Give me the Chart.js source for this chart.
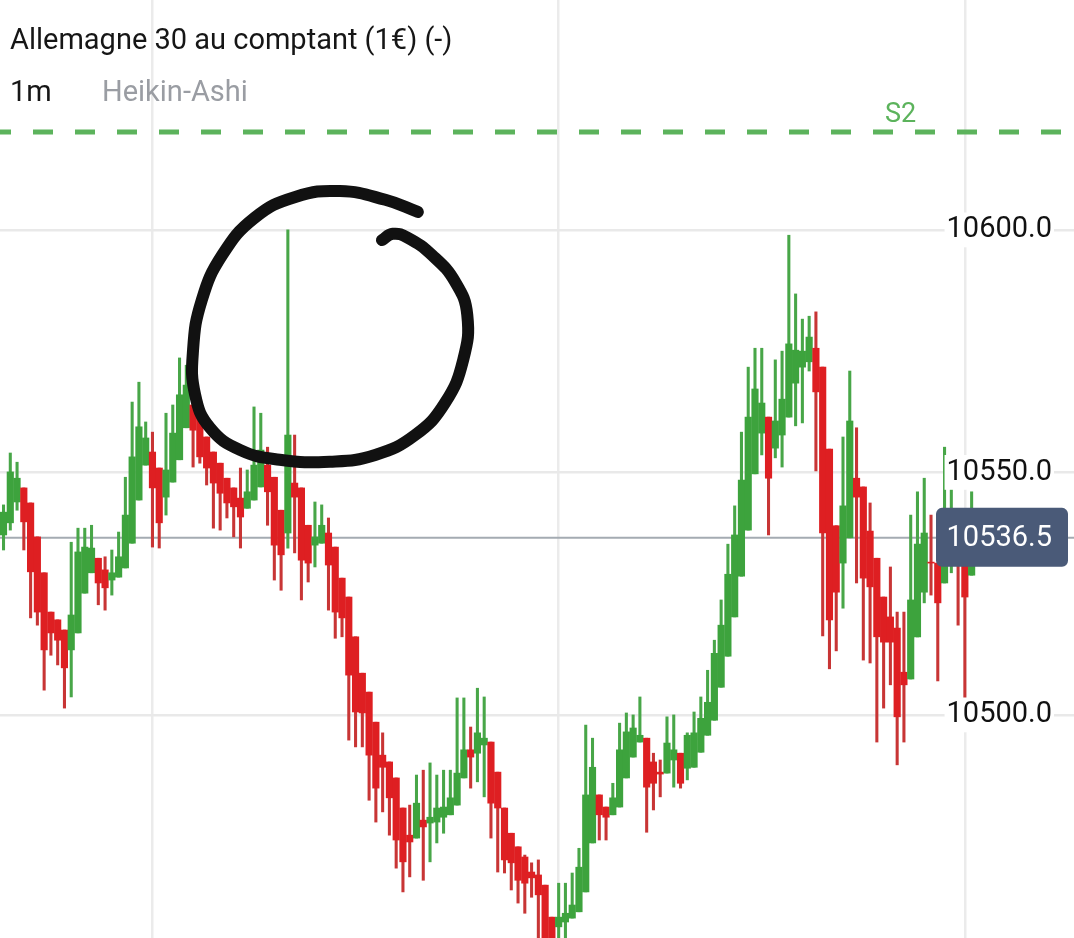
<!DOCTYPE html>
<html lang="fr">
<head>
<meta charset="UTF-8" />
<title>Allemagne 30 au comptant - Heikin-Ashi 1m</title>
<script src="https://cdn.jsdelivr.net/npm/chart.js"></script>
<style>
  html, body { margin: 0; padding: 0; background: #fff; }
  body { width: 1074px; height: 938px; overflow: hidden; position: relative; font-family: Roboto, sans-serif; }
  canvas { position: absolute; left: 0; top: 0; }
  .label { position: absolute; font-size: 29px; line-height: 29px; white-space: nowrap; }
  #title { left: 10px; top: 25px; color: #161616; }
  #tf { left: 10px; top: 77px; color: #161616; }
  #kind { left: 102px; top: 77px; color: #9a9da3; }
</style>
</head>
<body>
<canvas id="chart" width="1074" height="938"></canvas>
<div class="label" id="title">Allemagne 30 au comptant (1€) (-)</div>
<div class="label" id="tf">1m</div>
<div class="label" id="kind">Heikin-Ashi</div>
<script>
  // Heikin-Ashi candles, one per minute
  const open = [
    10537.1, 10539.6, 10543.9, 10546.8, 10543.7, 10536.7, 10529.3, 10521.2, 10519.6, 10517.5,
    10513.4, 10516.9, 10525.1, 10529.3, 10532.3, 10529.9, 10527.8, 10528.4, 10530.3, 10535.4,
    10544.3, 10551.5, 10554.2, 10550.9, 10544.9, 10548.0, 10552.6, 10559.2, 10563.9, 10561.4,
    10557.3, 10554.2, 10551.9, 10548.8, 10546.8, 10544.7, 10542.6, 10544.3, 10547.0, 10551.5,
    10549.0, 10542.2, 10537.5, 10547.8, 10546.8, 10539.1, 10535.0, 10535.4, 10537.5, 10534.6,
    10528.2, 10524.3, 10516.1, 10508.6, 10504.7, 10498.5, 10491.7, 10490.3, 10487.0, 10480.8,
    10475.2, 10474.6, 10478.3, 10477.7, 10477.9, 10478.9, 10479.4, 10481.4, 10487.0, 10492.8,
    10492.1, 10493.8, 10494.4, 10488.2, 10480.8, 10475.6, 10472.8, 10470.7, 10467.6, 10467.0,
    10464.9, 10458.3, 10456.3, 10457.3, 10458.1, 10459.4, 10463.5, 10473.6, 10483.5, 10481.0,
    10479.4, 10481.0, 10487.0, 10491.3, 10494.4, 10495.2, 10490.3, 10488.2, 10488.0, 10490.7,
    10492.1, 10489.0, 10489.2, 10492.3, 10495.8, 10498.9, 10505.7, 10512.1, 10520.2, 10528.6,
    10538.1, 10549.7, 10558.1, 10561.4, 10555.0, 10557.7, 10561.4, 10568.4, 10571.7, 10572.8,
    10575.6, 10571.7, 10554.8, 10539.0, 10531.3, 10536.5, 10548.8, 10547.0, 10537.9, 10532.3,
    10524.3, 10520.2, 10517.9, 10508.8, 10507.4, 10516.1, 10525.3, 10531.5, 10531.3, 10527.2,
    10533.2, 10535.0, 10533.4, 10528.8
  ];
  const high = [
    10543.3, 10554.0, 10552.1, 10546.8, 10543.7, 10536.7, 10529.3, 10521.2, 10519.6, 10517.5,
    10535.6, 10538.5, 10538.5, 10539.1, 10532.3, 10532.6, 10534.0, 10537.7, 10549.0, 10564.5,
    10568.6, 10560.4, 10558.3, 10550.9, 10562.2, 10563.9, 10573.6, 10572.1, 10563.9, 10561.4,
    10557.3, 10554.2, 10551.9, 10548.8, 10546.8, 10550.9, 10550.5, 10563.5, 10562.2, 10555.2,
    10549.0, 10542.2, 10600.0, 10557.7, 10546.8, 10539.1, 10543.9, 10543.3, 10540.6, 10534.6,
    10528.2, 10524.3, 10516.1, 10508.6, 10504.7, 10498.5, 10496.3, 10490.3, 10487.0, 10480.8,
    10481.4, 10487.6, 10488.6, 10490.1, 10487.6, 10488.6, 10488.6, 10503.5, 10503.5, 10497.5,
    10505.5, 10503.7, 10494.4, 10488.2, 10480.8, 10475.6, 10472.8, 10471.1, 10469.5, 10470.1,
    10464.9, 10458.3, 10465.3, 10465.3, 10467.4, 10472.5, 10497.9, 10495.2, 10483.5, 10481.0,
    10485.9, 10498.3, 10500.4, 10500.0, 10503.7, 10495.2, 10492.1, 10490.7, 10499.6, 10500.0,
    10492.1, 10496.3, 10500.6, 10503.7, 10509.2, 10515.4, 10523.7, 10535.2, 10543.1, 10558.3,
    10571.7, 10575.6, 10575.6, 10561.4, 10573.2, 10575.0, 10598.9, 10586.8, 10581.6, 10582.2,
    10583.1, 10571.7, 10554.8, 10539.0, 10557.3, 10570.9, 10559.2, 10547.0, 10543.7, 10532.3,
    10524.3, 10530.5, 10521.2, 10521.2, 10541.2, 10546.0, 10548.8, 10541.2, 10531.3, 10555.2,
    10549.5, 10535.0, 10533.4, 10546.0
  ];
  const low = [
    10534.0, 10538.1, 10542.2, 10534.0, 10520.0, 10518.5, 10505.1, 10512.3, 10510.3, 10501.4,
    10503.7, 10516.9, 10525.1, 10529.3, 10522.7, 10521.6, 10524.7, 10528.4, 10530.3, 10535.4,
    10544.3, 10551.5, 10534.6, 10534.4, 10541.2, 10548.0, 10552.6, 10559.2, 10551.1, 10551.9,
    10547.4, 10538.5, 10538.1, 10540.6, 10536.7, 10534.4, 10542.6, 10544.3, 10547.0, 10539.1,
    10527.8, 10525.7, 10534.4, 10533.4, 10523.7, 10527.4, 10530.5, 10535.4, 10521.6, 10515.8,
    10516.1, 10494.8, 10493.4, 10493.4, 10482.4, 10477.9, 10480.0, 10475.2, 10468.4, 10463.5,
    10466.6, 10474.6, 10465.9, 10469.7, 10473.6, 10475.6, 10479.4, 10481.4, 10487.0, 10484.9,
    10486.2, 10483.1, 10474.6, 10467.6, 10467.4, 10463.9, 10461.2, 10459.1, 10462.4, 10452.5,
    10451.0, 10451.0, 10453.6, 10453.6, 10458.1, 10459.4, 10463.5, 10473.6, 10474.2, 10474.2,
    10479.4, 10481.0, 10487.0, 10491.3, 10494.4, 10475.8, 10480.4, 10483.1, 10488.0, 10485.1,
    10484.9, 10486.6, 10489.2, 10492.3, 10495.8, 10498.9, 10505.7, 10512.1, 10520.2, 10528.6,
    10538.1, 10549.7, 10553.6, 10537.1, 10553.0, 10551.1, 10561.4, 10559.6, 10560.2, 10570.9,
    10550.3, 10516.3, 10509.5, 10513.2, 10522.0, 10536.5, 10527.2, 10511.3, 10510.7, 10494.4,
    10501.4, 10506.2, 10489.7, 10494.4, 10507.4, 10516.1, 10523.1, 10524.7, 10507.0, 10527.2,
    10529.3, 10518.5, 10503.1, 10528.8
  ];
  const close = [
    10541.8, 10550.1, 10548.8, 10539.8, 10529.5, 10521.2, 10513.4, 10516.9, 10515.4, 10509.7,
    10520.6, 10533.6, 10534.6, 10534.4, 10527.2, 10526.2, 10529.3, 10532.6, 10541.2, 10553.2,
    10559.4, 10557.1, 10546.8, 10539.6, 10550.5, 10558.1, 10566.0, 10568.0, 10558.7, 10553.2,
    10550.9, 10547.8, 10545.7, 10543.7, 10542.9, 10540.8, 10546.0, 10551.5, 10554.6, 10546.0,
    10535.0, 10533.0, 10557.7, 10544.9, 10531.9, 10531.3, 10536.7, 10539.1, 10530.9, 10521.2,
    10520.0, 10508.2, 10500.6, 10500.4, 10491.7, 10484.9, 10489.2, 10482.9, 10474.2, 10469.7,
    10473.8, 10481.8, 10476.9, 10478.9, 10480.8, 10481.0, 10482.9, 10488.0, 10492.8, 10491.3,
    10496.3, 10495.2, 10481.8, 10480.8, 10470.1, 10469.5, 10465.9, 10465.3, 10466.4, 10462.9,
    10451.5, 10452.5, 10458.3, 10459.1, 10460.8, 10468.6, 10483.5, 10489.2, 10479.4, 10478.9,
    10482.9, 10492.8, 10496.5, 10497.3, 10495.8, 10485.1, 10485.9, 10487.8, 10494.2, 10492.8,
    10485.9, 10495.8, 10496.3, 10499.3, 10502.6, 10512.7, 10518.5, 10529.0, 10537.1, 10548.4,
    10561.4, 10567.2, 10564.3, 10548.8, 10560.6, 10565.1, 10576.5, 10575.2, 10575.0, 10577.9,
    10566.6, 10537.5, 10519.6, 10525.3, 10543.1, 10560.6, 10544.9, 10528.2, 10526.4, 10516.1,
    10515.0, 10515.0, 10499.6, 10506.2, 10523.7, 10535.2, 10537.5, 10531.3, 10523.1, 10539.1,
    10537.1, 10531.9, 10524.3, 10531.9
  ];

  const hourMarks = [22, 82, 142];          // candles that open a new hour
  const priceTicks = [10500, 10550, 10600];
  const lastPrice = 10536.5;
  const s2Level = 10620.2;

  // hand-drawn ring around the spike, in (candle, price) units
  const ringX = [61.2, 56.4, 49.7, 43.1, 37.1, 32.3, 29.3, 28.0, 28.3, 30.5, 35.0, 40.8,
                 48.2, 54.9, 60.8, 65.2, 67.9, 68.5, 66.7, 63.3, 59.7, 57.5, 55.9];
  const ringY = [10603.7, 10606.2, 10608.0, 10606.8, 10602.5, 10594.8, 10585.6, 10575.3,
                 10566.0, 10559.2, 10554.6, 10552.6, 10552.2, 10553.6, 10557.7, 10564.3,
                 10573.2, 10582.5, 10589.3, 10594.8, 10598.4, 10599.2, 10597.9];

  const UP = '#3da33d', DOWN = '#de1f22';
  const UP_WICK = '#48a648', DOWN_WICK = '#c83535';

  const xMin = -0.52;
  const xMax = xMin + 1074 / 6.77;
  const yMin = 10454.0;
  const yMax = 10647.4;

  const idx = open.map((_, i) => i);
  const up = i => close[i] >= open[i];

  Chart.defaults.font.family = 'Roboto, sans-serif';

  const overlay = {
    id: 'overlay',
    afterDraw(chart) {
      const { ctx, scales: { y } } = chart;
      const py = y.getPixelForValue(lastPrice);
      ctx.save();
      ctx.fillStyle = '#4a5a78';
      ctx.beginPath();
      ctx.roundRect(936, py - 30, 132, 59, 6);
      ctx.fill();
      ctx.fillStyle = '#fff';
      ctx.font = '29px Roboto';
      ctx.textAlign = 'right';
      ctx.textBaseline = 'middle';
      ctx.fillText(lastPrice.toFixed(1), 1052, py + 1);

      const sy = y.getPixelForValue(s2Level);
      ctx.fillStyle = '#5cb35c';
      ctx.font = '27px Roboto';
      ctx.textAlign = 'left';
      ctx.textBaseline = 'alphabetic';
      ctx.fillText('S2', 885, sy - 10);
      ctx.restore();
    }
  };

  new Chart(document.getElementById('chart'), {
    type: 'bar',
    data: {
      datasets: [
        {
          type: 'line',
          data: [{ x: xMin, y: lastPrice }, { x: xMax, y: lastPrice }],
          borderColor: '#a4abb2',
          borderWidth: 2,
          pointRadius: 0,
          order: 6
        },
        {
          type: 'line',
          data: [{ x: xMin, y: s2Level }, { x: xMax, y: s2Level }],
          borderColor: '#5cb35c',
          borderWidth: 5,
          borderDash: [20, 22],
          borderDashOffset: 9,
          pointRadius: 0,
          order: 5
        },
        {
          data: idx.map(i => ({ x: i, y: [low[i], high[i]] })),
          backgroundColor: idx.map(i => up(i) ? UP_WICK : DOWN_WICK),
          barThickness: 2.4,
          grouped: false,
          order: 3
        },
        {
          data: idx.map(i => ({ x: i, y: [open[i], close[i]] })),
          backgroundColor: idx.map(i => up(i) ? UP : DOWN),
          barThickness: 6.5,
          grouped: false,
          order: 2
        },
        {
          type: 'line',
          data: ringX.map((x, i) => ({ x, y: ringY[i] })),
          borderColor: '#111',
          borderWidth: 12,
          borderCapStyle: 'round',
          borderJoinStyle: 'round',
          tension: 0.45,
          pointRadius: 0,
          order: 1
        }
      ]
    },
    options: {
      responsive: false,
      animation: false,
      layout: { padding: 0 },
      plugins: { legend: { display: false }, tooltip: { enabled: false } },
      scales: {
        x: {
          type: 'linear',
          min: xMin,
          max: xMax,
          offset: false,
          afterBuildTicks: s => { s.ticks = hourMarks.map(v => ({ value: v })); },
          afterFit: s => { s.height = 0; },
          ticks: { display: false },
          grid: { color: '#ebebeb', lineWidth: 2.5, drawTicks: false, offset: false },
          border: { display: false }
        },
        y: {
          position: 'right',
          min: yMin,
          max: yMax,
          afterBuildTicks: s => { s.ticks = priceTicks.map(v => ({ value: v })); },
          afterFit: s => { s.width = 0; },
          ticks: {
            mirror: true,
            padding: -22,
            z: 1,
            color: '#111',
            font: { size: 29 },
            callback: v => v.toFixed(1),
            showLabelBackdrop: true,
            backdropColor: '#fff',
            backdropPadding: { top: 0, bottom: 0, left: 2, right: 2 }
          },
          grid: { color: '#e9e9e9', lineWidth: 2.5, drawTicks: false },
          border: { display: false }
        }
      }
    },
    plugins: [overlay]
  });
</script>
</body>
</html>
